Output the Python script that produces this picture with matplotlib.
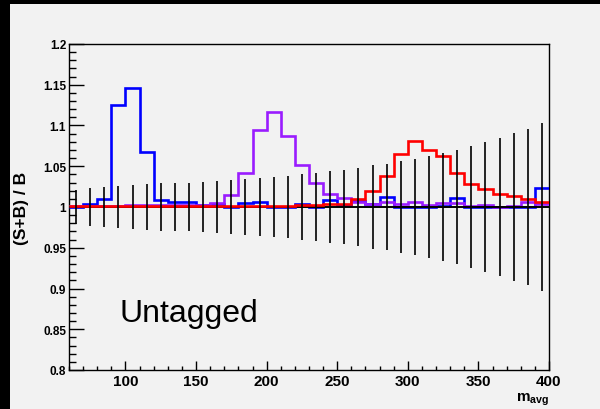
import matplotlib
import matplotlib.pyplot as plt
from matplotlib.patches import Rectangle
from matplotlib.ticker import MultipleLocator

matplotlib.use("Agg")

# binning: 34 bins of width 10 from 60 to 400
bin_edges = list(range(60, 401, 10))
bin_centers = [(a + b) / 2.0 for a, b in zip(bin_edges[:-1], bin_edges[1:])]

# (S+B)/B for the three signal hypotheses
blue_vals = [1.000, 1.004, 1.010, 1.125, 1.146, 1.068, 1.009, 1.006, 1.006, 1.002,
             1.004, 1.000, 1.005, 1.006, 1.000, 1.000, 1.004, 1.000, 1.009, 1.002,
             1.007, 1.004, 1.012, 1.000, 1.000, 1.000, 1.001, 1.011, 1.000, 1.000,
             1.000, 1.000, 1.000, 1.023]
purple_vals = [1.001, 1.001, 1.001, 1.001, 1.002, 1.002, 1.002, 1.002, 1.002, 1.003,
               1.005, 1.015, 1.042, 1.094, 1.116, 1.0875, 1.051, 1.030, 1.016, 1.011,
               1.006, 1.004, 1.0065, 1.004, 1.0065, 1.0025, 1.0045, 1.0045, 1.0016, 1.0025,
               1.0005, 1.0016, 1.0057, 1.004]
red_vals = [1.001, 1.001, 1.001, 1.001, 1.001, 1.001, 1.001, 1.001, 1.001, 1.001,
            1.001, 1.001, 1.001, 1.001, 1.001, 1.0015, 1.002, 1.002, 1.004, 1.004,
            1.010, 1.020, 1.0385, 1.065, 1.081, 1.0705, 1.062, 1.042, 1.028, 1.022,
            1.016, 1.014, 1.010, 1.006]

# background-only ratio and its relative uncertainty
bkg_vals = [1.0] * 34
bkg_err = [0.021, 0.023, 0.025, 0.026, 0.027, 0.028, 0.029, 0.029, 0.030, 0.031,
           0.032, 0.033, 0.034, 0.035, 0.037, 0.038, 0.0405, 0.042, 0.044, 0.046,
           0.048, 0.051, 0.053, 0.056, 0.059, 0.063, 0.066, 0.070, 0.075, 0.080,
           0.085, 0.091, 0.096, 0.103]

grey = "#f2f2f2"

plt.rcParams["font.family"] = "Liberation Sans"
plt.rcParams["mathtext.fontset"] = "custom"
plt.rcParams["mathtext.bf"] = "Liberation Sans:bold"
plt.rcParams["mathtext.rm"] = "Liberation Sans"

fig = plt.figure(figsize=(6, 4.1), dpi=100, facecolor=grey)
# black canvas edges like the ROOT window border
fig.patches.append(Rectangle((0, 0), 10 / 600, 1, transform=fig.transFigure,
                             facecolor="black", edgecolor="none", zorder=0))
fig.patches.append(Rectangle((0, 1 - 5 / 410), 1, 5 / 410, transform=fig.transFigure,
                             facecolor="black", edgecolor="none", zorder=0))

ax = fig.add_axes([69 / 600, 1 - 371 / 410, 480 / 600, 326 / 410])
ax.set_facecolor(grey)

ax.stairs(blue_vals, bin_edges, baseline=None, color="#0000ff", linewidth=1.9, zorder=3)
ax.stairs(purple_vals, bin_edges, baseline=None, color="#9a1cff", linewidth=1.9, zorder=3)
ax.stairs(bkg_vals, bin_edges, baseline=None, color="black", linewidth=1.4, zorder=4)
ax.stairs(red_vals, bin_edges, baseline=None, color="#ff0000", linewidth=1.9, zorder=5)
ax.errorbar(bin_centers, bkg_vals, yerr=bkg_err, fmt="none", ecolor="black",
            elinewidth=1.2, capsize=0, zorder=6)

ax.set_xlim(60, 400)
ax.set_ylim(0.8, 1.2)

ax.xaxis.set_major_locator(MultipleLocator(50))
ax.xaxis.set_minor_locator(MultipleLocator(10))
ax.yaxis.set_major_locator(MultipleLocator(0.05))
ax.yaxis.set_minor_locator(MultipleLocator(0.01))
ax.set_yticks([0.8, 0.85, 0.9, 0.95, 1.0, 1.05, 1.1, 1.15, 1.2])
ax.set_yticklabels(["0.8", "0.85", "0.9", "0.95", "1", "1.05", "1.1", "1.15", "1.2"])
ax.set_xticks([100, 150, 200, 250, 300, 350, 400])

ax.tick_params(axis="both", which="both", direction="in", top=False, right=False)
ax.tick_params(axis="y", which="major", length=10.8, width=1, labelsize=8.5, pad=2)
ax.tick_params(axis="y", which="minor", length=4.8, width=1)
ax.tick_params(axis="x", which="major", length=6.5, width=1, labelsize=11, pad=3)
ax.tick_params(axis="x", which="minor", length=3, width=1)
for lab in ax.get_xticklabels() + ax.get_yticklabels():
    lab.set_fontweight("bold")
for sp in ax.spines.values():
    sp.set_linewidth(1)

ax.set_ylabel("(S+B) / B", fontsize=12.5, fontweight="bold")
ax.yaxis.set_label_coords(-0.083, 0.5)
fig.text(549 / 600, 1 - 401 / 410, r"$\mathbf{m}_{\mathbf{avg}}$", fontsize=11,
         ha="right", va="baseline")

ax.text(96, 0.86, "Untagged", fontsize=23, ha="left", va="baseline")

plt.savefig("out.png", dpi=100, facecolor=grey)
